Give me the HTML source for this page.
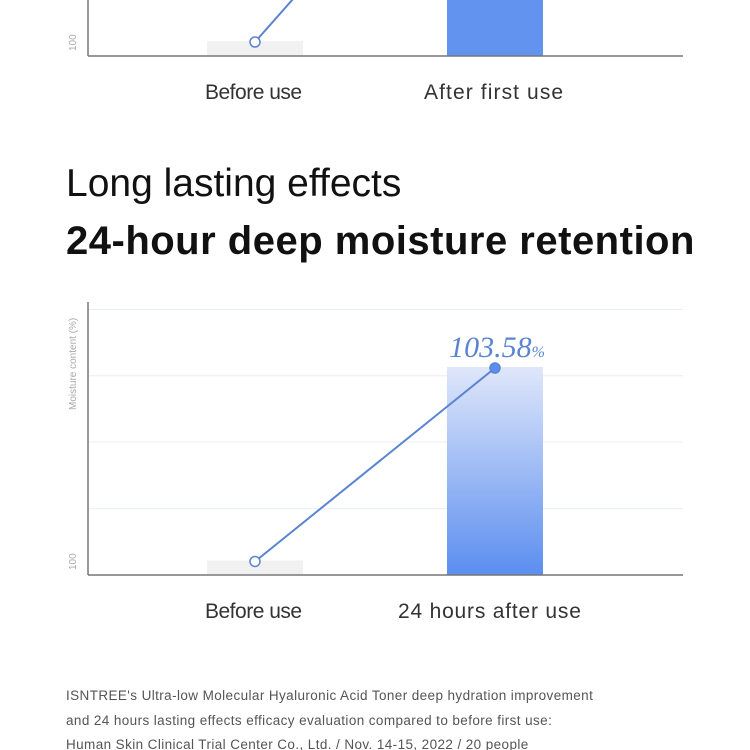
<!DOCTYPE html>
<html><head><meta charset="utf-8"><style>
html,body{margin:0;padding:0;background:#fff;width:750px;height:750px;overflow:hidden;font-family:"Liberation Sans",sans-serif}
.t{position:absolute;white-space:nowrap}
</style></head><body>
<div style="position:relative;width:750px;height:750px">
<svg width="750" height="750" style="position:absolute;left:0;top:0" id="svg">
<defs><linearGradient id="g" x1="0" y1="0" x2="0" y2="1"><stop offset="0" stop-color="#dfe7fa"/><stop offset="1" stop-color="#5b8ef0"/></linearGradient></defs>
<g>
<rect x="207" y="41" width="96" height="15" fill="#f1f1f1"/>
<rect x="447" y="0" width="96" height="56" fill="#6294ef"/>
<line x1="88" y1="0" x2="88" y2="56" stroke="#777" stroke-width="1.5"/>
<line x1="88" y1="56" x2="683" y2="56" stroke="#777" stroke-width="1.5"/>
<line x1="255" y1="42" x2="301" y2="-10" stroke="#5b84d0" stroke-width="2"/>
<circle cx="255" cy="42" r="5" fill="#fff" stroke="#5b84d0" stroke-width="1.5"/>
<text x="76" y="51" transform="rotate(-90 76 51)" font-size="10" fill="#aaa">100</text>
</g>
<g id="chart2"></g>
</svg>
<div class="t" style="left:205px;top:81px;font-size:21px;color:#333;letter-spacing:-0.5px">Before use</div>
<div class="t" style="left:424px;top:81px;font-size:21px;color:#333;letter-spacing:1.1px">After first use</div>
<div class="t" style="left:66px;top:162px;font-size:39px;color:#111;letter-spacing:0px">Long lasting effects</div>
<div class="t" style="left:66px;top:219px;font-size:40px;font-weight:bold;color:#111;letter-spacing:0.5px">24-hour deep moisture retention</div>
<div class="t" style="left:205px;top:600px;font-size:21px;color:#333;letter-spacing:-0.5px">Before use</div>
<div class="t" style="left:398px;top:600px;font-size:21px;color:#333;letter-spacing:0.8px">24 hours after use</div>
<div class="t" style="left:66px;top:684px;font-size:13.5px;color:#555;line-height:24.5px;letter-spacing:0.4px">ISNTREE's Ultra-low Molecular Hyaluronic Acid Toner deep hydration improvement<br>and 24 hours lasting effects efficacy evaluation compared to before first use:<br>Human Skin Clinical Trial Center Co., Ltd. / Nov. 14-15, 2022 / 20 people</div>
</div>
<script>
const categories=["Before use","24 hours after use"];
const values=[100.25,103.58];
const gridValues=[101.14,102.29,103.43,104.57];
const yTickLabels=["100"];
const NS="http://www.w3.org/2000/svg";
const g=document.getElementById('chart2');
const X0=88,X1=683,Y0=575,YT=302;
function y(v){return Y0-(v-100)*58.1;}
function xc(i){return 255+i*240;}
function mk(t,a){const e=document.createElementNS(NS,t);for(const k in a)e.setAttribute(k,a[k]);g.appendChild(e);return e;}
gridValues.forEach((v,i)=>{const e=mk('line',{x1:X0,x2:X1,y1:y(v),y2:y(v),stroke:'#e8eef5','stroke-width':1});

});
values.forEach((v,i)=>{const e=mk('rect',{x:xc(i)-48,y:y(v),width:96,height:Y0-y(v),fill:i?'url(#g)':'#f1f1f1'});

});
let e=mk('line',{x1:X0,x2:X0,y1:YT,y2:Y0,stroke:'#777','stroke-width':1.5});


e=mk('line',{x1:X0,x2:X1,y1:Y0,y2:Y0,stroke:'#777','stroke-width':1.5});


e=mk('polyline',{points:values.map((v,i)=>xc(i)+','+(y(v)+1)).join(' '),fill:'none',stroke:'#5b84d0','stroke-width':2});


values.forEach((v,i)=>{const c=mk('circle',{cx:xc(i),cy:y(v)+1,r:5,fill:i?'#5b8ef0':'#fff',stroke:'#5b84d0','stroke-width':1.5});

});
e=mk('text',{x:xc(1)+2,y:y(values[1])-10,'text-anchor':'middle','font-family':'Liberation Serif, serif','font-style':'italic','font-size':30,fill:'#5b84d0'});
e.innerHTML=values[1].toFixed(2)+'<tspan font-size="16">%</tspan>';


e=mk('text',{x:76,y:Y0-5,transform:'rotate(-90 76 '+(Y0-5)+')','font-size':10,fill:'#aaa'});
e.textContent=yTickLabels[0];


e=mk('text',{x:76,y:410,transform:'rotate(-90 76 410)','font-size':10,fill:'#aaa'});
e.textContent='Moisture content (%)';


</script>
</body></html>
